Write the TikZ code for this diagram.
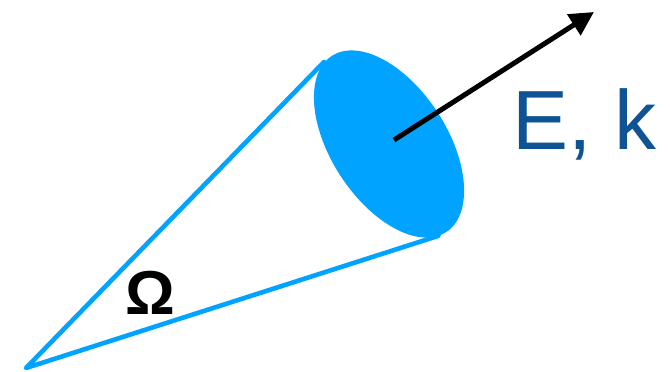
\documentclass[tikz,border=0pt]{standalone}
\usepackage{fontspec}
\setmainfont{Liberation Sans}
\usetikzlibrary{arrows.meta}
\definecolor{coneblue}{RGB}{0,163,255}
\definecolor{textblue}{RGB}{14,84,148}
\begin{document}
\begin{tikzpicture}[x=1pt,y=1pt,
  conel/.style={draw=coneblue,line width=4.6pt,line cap=round,line join=round},
  dirarrow/.style={draw=black,line width=5pt,-{Triangle[length=24pt,width=24pt]}}]
\useasboundingbox (0,0) rectangle (670,372);
\coordinate (apex) at (26,4);
\coordinate (c) at (389,228);
\coordinate (tu) at (324,310);
\coordinate (tl) at (438.4,136.2);
\fill[coneblue,rotate around={-57:(c)}] (c) ellipse [x radius=105, y radius=58];
\draw[conel] (tu) -- (apex) -- (tl);
\coordinate (as) at (394,232);
\coordinate (ae) at (594,360);
\draw[dirarrow] (as) -- (ae);
\node[anchor=base west,inner sep=0pt,text=textblue,font=\fontsize{84}{84}\selectfont] (ek) at (512,222) {E, k};
\node[inner sep=0pt,font=\bfseries\fontsize{62}{62}\selectfont] (om) at (150,79) {Ω};
\end{tikzpicture}
\end{document}
